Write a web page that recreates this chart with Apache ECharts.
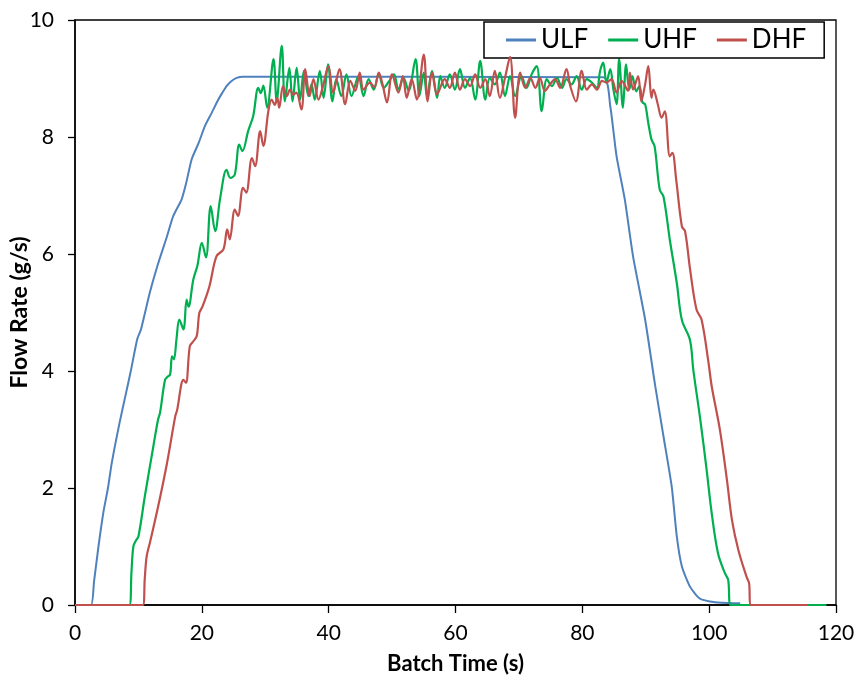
<!DOCTYPE html>
<html>
<head>
<meta charset="utf-8">
<script src="https://cdn.jsdelivr.net/npm/echarts@6/dist/echarts.min.js"></script>
<style>html,body{margin:0;padding:0;background:#fff}#c{width:857px;height:684px}</style>
</head>
<body>
<div id="c"></div>
<script>
const xTicks = [0, 20, 40, 60, 80, 100, 120];
const yTicks = [0, 2, 4, 6, 8, 10];
const seriesNames = ['ULF', 'UHF', 'DHF'];

const ulfTime = [0, 2.5, 3.0, 3.7, 4.5, 5.2, 5.8, 7.0, 8.0, 8.8, 9.8, 10.4, 11.8, 13.0, 14.5, 15.5, 16.8, 17.5, 18.4, 19.5, 20.5, 21.5, 22.6, 23.2, 23.9, 24.6, 25.5, 26.5, 28, 83.3, 84.4, 85.4, 86.7, 88.0, 89.9, 91.5, 92.8, 94.1, 94.9, 95.7, 97.0, 98.5, 100.1, 102, 104.9];
const ulfFlow = [0, 0, 0.4, 1.0, 1.6, 2.0, 2.43, 3.1, 3.6, 4.0, 4.54, 4.71, 5.34, 5.8, 6.3, 6.65, 6.93, 7.2, 7.62, 7.9, 8.19, 8.4, 8.64, 8.75, 8.87, 8.95, 9.01, 9.03, 9.03, 9.02, 8.53, 7.67, 6.93, 5.96, 4.88, 3.74, 2.88, 2.02, 1.17, 0.66, 0.31, 0.11, 0.06, 0.04, 0.03];

const uhfTime = [0, 8.57, 8.9, 9.2, 9.6, 10.0, 11.0, 12.35, 13.1, 13.4, 14.2, 14.6, 15.0, 15.3, 15.6, 16.0, 16.45, 17.1, 17.6, 17.9, 18.65, 19.3, 20.0, 20.65, 21.4, 22.1, 22.9, 23.9, 24.5, 25.2, 25.9, 26.4, 27.3, 28.1, 28.9, 29.3, 29.7, 30.3, 31.3, 31.8, 32.6, 33.1, 33.8, 34.3, 34.95, 35.5, 36.1, 36.8, 37.3, 37.8, 38.6, 39.2, 39.9, 40.6, 41.2, 42.0, 42.8, 43.6, 44.7, 45.5, 46.3, 47.1, 47.9, 48.7, 49.5, 50.3, 51.0, 51.8, 52.6, 53.7, 54.3, 55.0, 55.5, 56.3, 57.1, 57.6, 58.3, 59.1, 59.9, 60.7, 61.5, 62.3, 63.1, 63.9, 64.7, 65.4, 66.2, 67.0, 67.8, 68.6, 69.4, 70.4, 71.2, 72.0, 72.8, 73.6, 74.4, 75.2, 76.0, 76.8, 77.5, 78.3, 79.1, 79.9, 80.7, 81.5, 82.3, 82.8, 83.3, 83.8, 84.4, 84.9, 85.4, 85.8, 86.4, 86.9, 87.4, 87.9, 88.5, 89.0, 89.5, 89.9, 90.4, 90.9, 91.4, 92.2, 92.8, 93.8, 94.9, 95.7, 96.97, 97.5, 98.6, 99.6, 100.4, 101.4, 102.5, 103.0, 103.4, 118.5];
const uhfFlow = [0, 0, 0.55, 1.0, 1.1, 1.17, 1.85, 2.71, 3.17, 3.28, 3.85, 3.9, 3.94, 4.25, 4.2, 4.54, 4.88, 4.71, 5.22, 5.1, 5.56, 5.8, 6.19, 5.94, 6.82, 6.39, 6.96, 7.44, 7.3, 7.36, 7.87, 7.76, 8.10, 8.36, 8.84, 8.75, 8.88, 8.50, 9.33, 8.61, 9.56, 8.61, 9.18, 8.61, 9.18, 8.64, 9.13, 8.70, 8.9, 8.64, 9.13, 8.67, 9.24, 8.61, 8.99, 8.70, 9.07, 8.70, 9.04, 8.70, 8.99, 8.81, 9.07, 8.84, 8.95, 9.07, 8.81, 9.01, 8.79, 9.33, 8.70, 9.10, 8.70, 9.13, 8.67, 9.04, 8.84, 9.07, 8.81, 9.16, 8.84, 9.01, 8.64, 9.30, 8.64, 9.01, 8.90, 9.10, 8.70, 9.04, 8.70, 9.04, 8.84, 9.07, 9.21, 8.44, 8.99, 8.87, 9.01, 8.84, 8.99, 8.90, 9.04, 8.81, 8.99, 8.93, 8.84, 9.13, 9.27, 8.93, 9.16, 8.81, 8.56, 9.33, 8.50, 9.24, 8.81, 9.04, 8.78, 8.87, 8.59, 8.56, 8.24, 7.96, 7.84, 7.10, 6.98, 6.24, 5.50, 4.87, 4.53, 4.02, 3.17, 2.31, 1.57, 0.88, 0.54, 0.43, 0, 0];

const dhfTime = [0, 10.7, 11.0, 11.3, 11.8, 13.1, 14.5, 15.8, 16.1, 17.1, 17.5, 18.1, 18.6, 19.2, 19.6, 20.1, 21.2, 22.3, 23.4, 24.0, 24.4, 25.2, 25.7, 26.5, 27.0, 27.9, 28.4, 29.2, 29.7, 30.5, 31.0, 31.5, 31.9, 32.2, 32.8, 33.4, 33.9, 34.4, 34.9, 35.7, 36.3, 37.0, 37.6, 38.4, 39.1, 39.96, 40.7, 41.7, 42.6, 43.4, 44.2, 44.9, 45.5, 46.5, 47.2, 47.9, 48.5, 49.2, 50.0, 51.0, 51.7, 52.3, 53.1, 53.9, 55.0, 55.6, 56.3, 57.1, 58.3, 59.1, 59.9, 60.7, 61.5, 62.3, 63.1, 63.9, 64.7, 65.4, 66.2, 67.0, 67.8, 68.6, 69.4, 70.2, 71.0, 71.8, 72.6, 73.3, 74.1, 74.9, 75.7, 76.5, 77.5, 78.1, 79.0, 79.9, 80.7, 81.5, 82.3, 83.1, 83.8, 84.6, 85.4, 86.2, 87.2, 87.5, 88.0, 88.8, 89.3, 89.9, 90.4, 90.9, 91.2, 91.9, 92.5, 93.0, 93.8, 94.2, 94.8, 95.7, 96.2, 97.0, 98.0, 98.8, 99.9, 100.4, 101.7, 102.8, 103.6, 104.6, 105.9, 106.3, 106.5, 115.6];
const dhfFlow = [0, 0, 0.45, 0.83, 1.06, 1.68, 2.42, 3.22, 3.33, 3.85, 3.8, 4.42, 4.5, 4.6, 4.99, 5.1, 5.45, 5.96, 6.08, 6.42, 6.25, 6.76, 6.65, 7.13, 7.05, 7.64, 7.5, 8.1, 7.85, 8.45, 8.64, 8.55, 8.67, 8.50, 8.87, 8.70, 8.81, 8.72, 8.76, 8.47, 9.16, 8.70, 8.99, 8.64, 8.87, 9.21, 8.76, 9.16, 8.56, 8.96, 8.79, 9.10, 8.81, 8.93, 8.85, 9.10, 8.9, 8.59, 9.07, 8.76, 9.04, 8.67, 8.99, 8.64, 9.41, 8.61, 9.10, 8.73, 8.99, 8.84, 9.10, 8.81, 8.99, 8.87, 9.07, 8.84, 8.99, 8.70, 9.13, 8.67, 9.01, 9.37, 8.33, 9.10, 8.84, 9.01, 8.84, 9.01, 8.79, 8.90, 8.99, 8.84, 9.16, 8.87, 8.61, 9.13, 8.81, 8.90, 8.81, 8.96, 8.93, 8.99, 8.76, 8.96, 8.79, 9.10, 8.81, 9.04, 8.61, 8.9, 9.21, 8.67, 8.81, 8.56, 8.33, 8.44, 7.67, 7.73, 7.27, 6.47, 6.39, 5.73, 5.05, 4.88, 4.14, 3.74, 2.99, 2.14, 1.45, 0.94, 0.48, 0.37, 0, 0];

const zip = (t, v) => t.map((x, i) => [x, v[i]]);
const colors = ['#4F81BD', '#00B050', '#C0504D'];
const FONT = 'Lato';

const chart = echarts.init(document.getElementById('c'), null, {renderer: 'canvas'});
chart.setOption({
  animation: false,
  backgroundColor: '#fff',
  color: colors,
  grid: {left: 75, right: 21, top: 20, bottom: 79, containLabel: false, outerBoundsMode: 'none', show: true, borderColor: '#000', borderWidth: 1.3, backgroundColor: 'transparent'},
  legend: {
    data: seriesNames,
    left: 484, top: 22,
    padding: [5, 18, 5, 22],
    itemGap: 20, itemWidth: 30, itemHeight: 3,
    icon: 'rect',
    borderColor: '#000', borderWidth: 1.5, backgroundColor: '#fff',
    textStyle: {fontFamily: FONT, fontSize: 26, color: '#000'}
  },
  xAxis: {
    type: 'value', min: xTicks[0], max: xTicks[xTicks.length - 1], interval: 20,
    name: 'Batch Time (s)', nameLocation: 'middle', nameGap: 48, nameMoveOverlap: false,
    nameTextStyle: {fontFamily: FONT, fontWeight: 'bold', fontSize: 22, color: '#000'},
    axisLine: {show: true, lineStyle: {color: '#000', width: 1.5}},
    axisTick: {show: true, length: 8, inside: false, lineStyle: {color: '#000', width: 1.3}},
    axisLabel: {fontFamily: FONT, fontSize: 21, color: '#000', margin: 18},
    splitLine: {show: false}
  },
  yAxis: {
    type: 'value', min: yTicks[0], max: yTicks[yTicks.length - 1], interval: 2,
    name: 'Flow Rate (g/s)', nameLocation: 'middle', nameGap: 44, nameMoveOverlap: false,
    nameTextStyle: {fontFamily: FONT, fontWeight: 'bold', fontSize: 23, color: '#000'},
    axisLine: {show: true, lineStyle: {color: '#000', width: 1.5}},
    axisTick: {show: true, length: 7, inside: false, lineStyle: {color: '#000', width: 1.3}},
    axisLabel: {fontFamily: FONT, fontSize: 21, color: '#000', margin: 21},
    splitLine: {show: false}
  },
  series: [
    {name: seriesNames[0], type: 'line', data: zip(ulfTime, ulfFlow), showSymbol: false, smooth: 0.2, lineStyle: {width: 2, color: colors[0]}, z: 2},
    {name: seriesNames[1], type: 'line', data: zip(uhfTime, uhfFlow), showSymbol: false, smooth: 0.35, lineStyle: {width: 2.2, color: colors[1]}, z: 3},
    {name: seriesNames[2], type: 'line', data: zip(dhfTime, dhfFlow), showSymbol: false, smooth: 0.35, lineStyle: {width: 2.2, color: colors[2]}, z: 4}
  ]
});
</script>
</body>
</html>
